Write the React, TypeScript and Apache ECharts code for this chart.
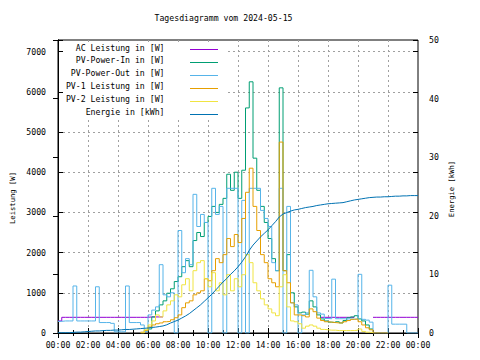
import React, { useEffect, useRef } from 'react';
import * as echarts from 'echarts';

const times = [
  '00:00','00:15','00:30','00:45','01:00','01:15','01:30','01:45','02:00','02:15','02:30','02:45',
  '03:00','03:15','03:30','03:45','04:00','04:15','04:30','04:45','05:00','05:15','05:30','05:45',
  '06:00','06:15','06:30','06:45','07:00','07:15','07:30','07:45','08:00','08:15','08:30','08:45',
  '09:00','09:15','09:30','09:45','10:00','10:15','10:30','10:45','11:00','11:15','11:30','11:45',
  '12:00','12:15','12:30','12:45','13:00','13:15','13:30','13:45','14:00','14:15','14:30','14:45',
  '15:00','15:15','15:30','15:45','16:00','16:15','16:30','16:45','17:00','17:15','17:30','17:45',
  '18:00','18:15','18:30','18:45','19:00','19:15','19:30','19:45','20:00','20:15','20:30','20:45',
  '21:00','21:15','21:30','21:45','22:00','22:15','22:30','22:45','23:00','23:15','23:30','23:45',
  '24:00'
];

const _ = null;

// AC Leistung: visible at night; during the day it lies under PV-Power-Out (not drawn)
const acPower = [
  300, 390, 390, 390, 390, 390, 390, 390, 390, 390,
  390, 390, 390, 390, 390, 390, 390, 390, 390, 390,
  390, 390, 390, 390, 400, 400, 400, 400, _, _,
  _, _, _, _, _, _, _, _, _, _,
  _, _, _, _, _, _, _, _, _, _,
  _, _, _, _, _, _, _, _, _, _,
  _, _, _, _, _, _, _, _, _, _,
  390, 390, 390, 390, 390, 390, 390, 390, 390, _,
  _, _, _, _, 390, 390, 390, 390, 390, 390,
  390, 390, 390, 390, 390, 390, 390
];

const pvPowerIn = [
  _, _, _, _, _, _, _, _, _, _,
  _, _, _, _, _, _, _, _, _, _,
  _, _, _, _, 100, 400, 550, 700, 800, 990,
  1100, 1280, 1400, 1650, 1800, 1650, 2300, 2500, 2400, 2750,
  2900, 3150, 3000, 3200, 3350, 3950, 3550, 4000, 3350, 4050,
  5600, 6250, 4350, 3550, 3150, 2750, 2350, 1850, 1550, 6100,
  1550, 1950, 1000, 650, 500, 520, 470, 800, 650, 450,
  350, 300, 270, 260, 280, 250, 310, 380, 400, 430,
  350, 300, 200, 100, _, _, _, _, _, _,
  _, _, _, _, _, _, _
];

const pvPowerOut = [
  290, 300, 300, 300, 1170, 300, 300, 300, 300, 300,
  1150, 260, 260, 260, 240, 30, 30, 30, 1170, 260,
  260, 260, 200, 40, 450, 570, 650, 1700, 950, 900,
  1000, 0, 2550, 1500, 1850, 1700, 3450, 2650, 2950, 2750,
  0, 3600, 2950, 3150, 0, 3600, 3600, 3600, 0, 3300,
  0, 3600, 3600, 3600, 3050, 2850, 2650, 1750, 1550, 3600,
  0, 3150, 750, 700, 0, 450, 500, 1560, 900, 500,
  470, 360, 355, 1340, 355, 355, 350, 350, 345, 345,
  1460, 340, 320, 270, 0, 0, 0, 0, 1190, 220,
  220, 220, 220, 0, 0, 0, 0
];

const pv1Power = [
  _, _, _, _, _, _, _, _, _, _,
  _, _, _, _, _, _, _, _, _, _,
  _, _, 20, 60, 150, 200, 230, 250, 280, 290,
  330, 380, 450, 630, 750, 800, 950, 1000, 1050, 1350,
  1300, 1550, 1850, 1750, 1950, 2350, 2150, 2450, 2250, 2850,
  3500, 4100, 3150, 2550, 1950, 1750, 1350, 1250, 1150, 4750,
  1550, 1250, 750, 450, 450, 430, 400, 600, 530, 370,
  310, 280, 270, 260, 250, 250, 280, 310, 340, 350,
  280, 200, 130, 80, 0, 0, 0, 0, _, _,
  _, _, _, _, _, _, _
];

const pv2Power = [
  _, _, _, _, _, _, _, _, _, _,
  _, _, _, _, _, _, _, _, _, _,
  _, _, 0, 80, 200, 300, 450, 400, 550, 700,
  800, 950, 900, 1200, 1350, 1050, 1550, 1750, 1800, 1350,
  1150, 1500, 1050, 1250, 950, 1450, 1050, 1350, 1150, 1450,
  1950, 1750, 1250, 1050, 850, 700, 600, 500, 430, 1150,
  1450, 650, 300, 280, 230, 120, 170, 200, 170, 120,
  90, 80, 70, 70, 60, 60, 60, 60, 60, 70,
  100, 40, 20, 10, _, _, _, _, _, _,
  _, _, _, _, _, _, _
];

const energyKWh = [
  0.05, 0.05, 0.05, 0.05, 0.1, 0.15, 0.15, 0.2, 0.25, 0.3,
  0.35, 0.35, 0.4, 0.45, 0.45, 0.5, 0.5, 0.55, 0.6, 0.6,
  0.65, 0.7, 0.75, 0.8, 0.85, 0.95, 1.0, 1.1, 1.2, 1.4,
  1.7, 1.95, 2.2, 2.55, 2.9, 3.3, 3.8, 4.3, 4.8, 5.4,
  6.0, 6.6, 7.3, 8.0, 8.7, 9.3, 10.0, 10.6, 11.3, 12.1,
  13.0, 14.1, 15.0, 15.7, 16.4, 17.0, 17.6, 18.3, 19.0, 19.8,
  20.3, 20.55, 20.8, 21.0, 21.1, 21.25, 21.4, 21.5, 21.6, 21.75,
  21.85, 21.95, 22.05, 22.1, 22.15, 22.2, 22.25, 22.4, 22.55, 22.7,
  22.8, 22.9, 23.0, 23.1, 23.15, 23.2, 23.2, 23.25, 23.25, 23.3,
  23.35, 23.35, 23.4, 23.4, 23.45, 23.45, 23.45
];

const seriesNames = [
  'AC Leistung in [W]',
  'PV-Power-In in [W]',
  'PV-Power-Out in [W]',
  'PV-1 Leistung in [W]',
  'PV-2 Leistung in [W]',
  'Energie in [kWh]'
];
const seriesColors = ['#9400d3', '#009e73', '#56b4e9', '#e69f00', '#f0e442', '#0072b2'];

const titleText = 'Tagesdiagramm vom 2024-05-15';
const leftAxisName = 'Leistung [W]';
const rightAxisName = 'Energie [kWh]';

const FONT = '"DejaVu Sans Mono", "Liberation Mono", monospace';
const FS = 8.2;

function toHours(t: string): number {
  const [h, m] = t.split(':').map(Number);
  return h + m / 60;
}

function pairs(vals: (number | null)[]) {
  return times.map((t, i) => [toHours(t), vals[i] == null ? '-' : vals[i]]);
}

export default function App() {
  const ref = useRef<HTMLDivElement>(null);

  useEffect(() => {
    if (!ref.current) return;
    const chart = echarts.init(ref.current, undefined, { renderer: 'svg' });

    const gridLine = { show: true, lineStyle: { color: '#a0a0a0', type: [2, 3], width: 1 }, showMinLine: false, showMaxLine: false };
    const tick = { show: true, inside: true, length: 5, lineStyle: { color: '#000', width: 1 } };
    const minor = { show: true, splitNumber: 2, length: 3, lineStyle: { color: '#000', width: 1 } };
    const lbl = { fontFamily: FONT, fontSize: FS, color: '#000' };

    const powerData = [acPower, pvPowerIn, pvPowerOut, pv1Power, pv2Power];

    const series: any[] = powerData.map((vals, k) => ({
      name: seriesNames[k],
      type: 'line',
      xAxisIndex: 0,
      yAxisIndex: 0,
      step: 'end',
      data: pairs(vals),
      showSymbol: false,
      symbol: 'none',
      connectNulls: false,
      silent: true,
      lineStyle: { width: 1, color: seriesColors[k] },
      itemStyle: { color: seriesColors[k] },
    }));
    series.push({
      name: seriesNames[5],
      type: 'line',
      xAxisIndex: 0,
      yAxisIndex: 1,
      data: pairs(energyKWh),
      showSymbol: false,
      symbol: 'none',
      silent: true,
      lineStyle: { width: 1, color: seriesColors[5] },
      itemStyle: { color: seriesColors[5] },
    });

    const legendEls: any[] = [];
    seriesNames.forEach((name, k) => {
      legendEls.push({
        type: 'text',
        x: 164.5,
        y: 47.5 + 12.8 * k,
        z: 10,
        silent: true,
        style: { text: name, fontFamily: FONT, fontSize: FS, fill: '#000', align: 'right', verticalAlign: 'middle' },
      });
      legendEls.push({
        type: 'line',
        z: 10,
        silent: true,
        shape: { x1: 190, y1: 49.5 + 13 * k, x2: 218, y2: 49.5 + 13 * k },
        style: { stroke: seriesColors[k], lineWidth: 1 },
      });
    });

    const option: any = {
      animation: false,
      backgroundColor: '#ffffff',
      grid: { left: 58, top: 40, width: 360, height: 293, show: true, borderColor: '#000', borderWidth: 1, backgroundColor: 'transparent' },
      xAxis: [
        {
          type: 'value', min: 0, max: 24, interval: 2, position: 'bottom',
          axisLine: { show: true, lineStyle: { color: '#000', width: 1 } },
          axisTick: tick, minorTick: minor,
          axisLabel: { ...lbl, margin: 8, formatter: (v: number) => String(v % 24).padStart(2, '0') + ':00' },
          splitLine: gridLine,
        },
        {
          type: 'value', min: 0, max: 24, interval: 2, position: 'top',
          axisLine: { show: false }, axisTick: tick, minorTick: minor,
          axisLabel: { show: false }, splitLine: { show: false },
        },
      ],
      yAxis: [
        {
          type: 'value', min: 0, max: 7290, interval: 1000, position: 'left',
          axisLine: { show: true, lineStyle: { color: '#000', width: 1 } },
          axisTick: tick,
          axisLabel: { ...lbl, margin: 12, formatter: (v: number) => (v % 1000 === 0 ? String(v) : '') },
          splitLine: gridLine,
        },
        {
          type: 'value', min: 0, max: 50, interval: 10, position: 'right',
          axisLine: { show: true, lineStyle: { color: '#000', width: 1 } },
          axisTick: tick,
          axisLabel: { ...lbl, margin: 11 },
          splitLine: { show: false },
        },
        {
          type: 'value', min: 0, max: 7290, interval: 1000, position: 'right',
          axisLine: { show: false }, axisTick: tick,
          axisLabel: { show: false }, splitLine: { show: false },
        },
      ],
      series,
      graphic: [
        { type: 'rect', z: 1, silent: true, shape: { x: 63, y: 45, width: 162, height: 73 }, style: { fill: '#ffffff' } },
        {
          type: 'text', x: 223.5, y: 18, z: 10, silent: true,
          style: { text: titleText, fontFamily: FONT, fontSize: FS, fill: '#000', align: 'center', verticalAlign: 'middle' },
        },
        {
          type: 'text', x: 12, y: 198, rotation: Math.PI / 2, z: 10, silent: true,
          style: { text: leftAxisName, fontFamily: FONT, fontSize: 7.2, fill: '#000', align: 'center', verticalAlign: 'middle' },
        },
        {
          type: 'text', x: 451.5, y: 189, rotation: Math.PI / 2, z: 10, silent: true,
          style: { text: rightAxisName, fontFamily: FONT, fontSize: 7.2, fill: '#000', align: 'center', verticalAlign: 'middle' },
        },
        ...legendEls,
      ],
    };

    chart.setOption(option);
    return () => chart.dispose();
  }, []);

  return (
    <div
      ref={ref}
      style={{ position: 'fixed', left: 0, top: 0, width: 480, height: 360, background: '#fff' }}
    />
  );
}
